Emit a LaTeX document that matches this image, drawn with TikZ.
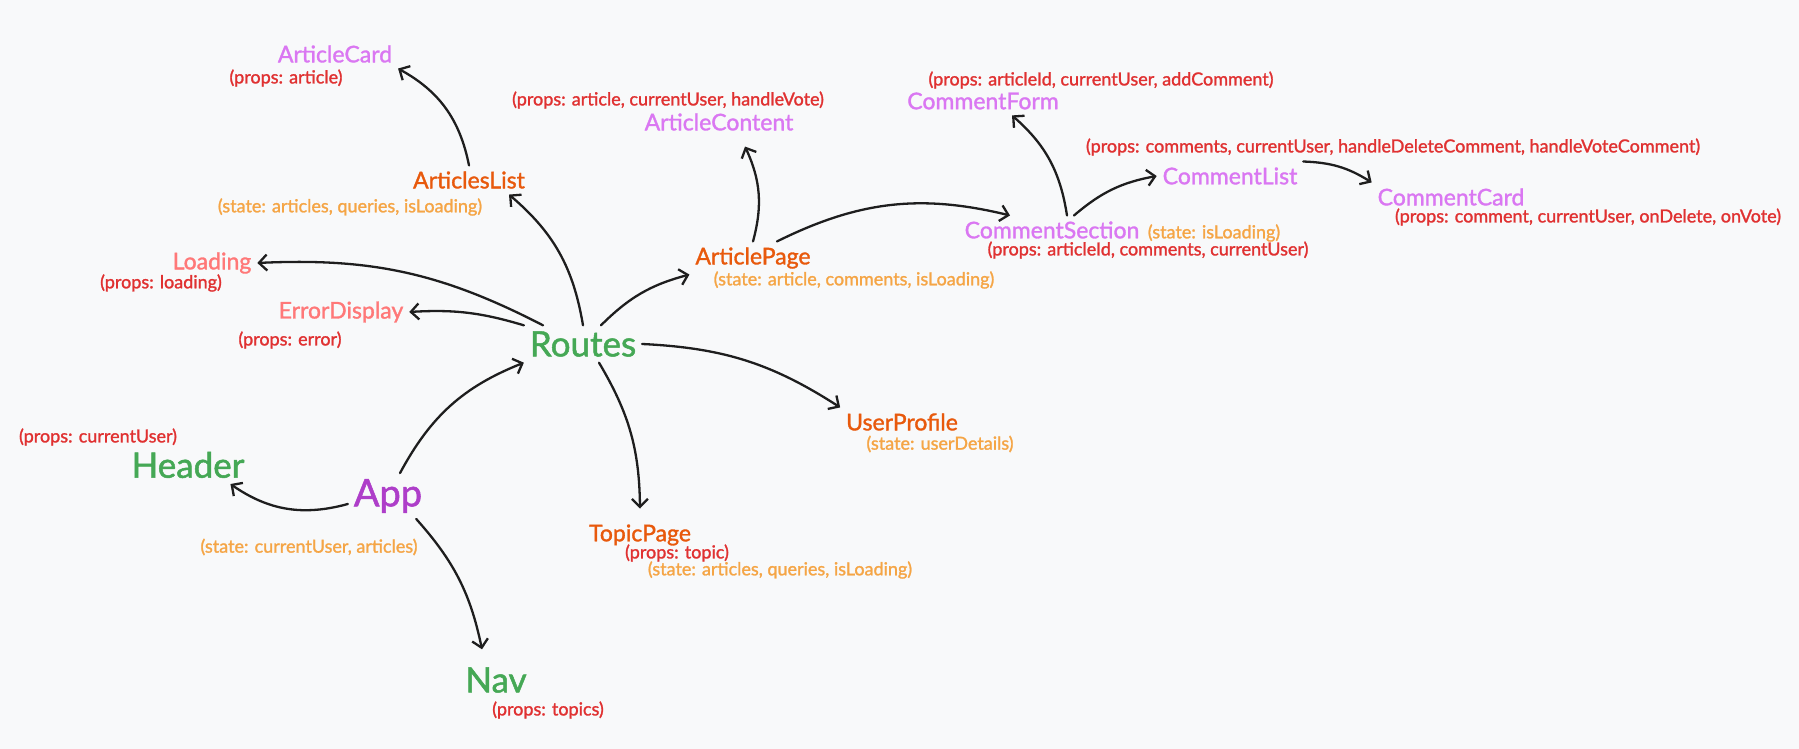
\documentclass[tikz,border=0pt]{standalone}
\usepackage{fontspec}
\setmainfont{Lato}[BoldFont=Lato, BoldFeatures={FakeBold=1.4}]
\usetikzlibrary{positioning}
\usetikzlibrary{arrows.meta}
\definecolor{bg}{HTML}{F8F9FA}
\definecolor{ink}{HTML}{1E1E1E}
\definecolor{leafgreen}{HTML}{45A855}
\definecolor{grape}{HTML}{AE3EC9}
\definecolor{lilac}{HTML}{DA77F2}
\definecolor{pageorange}{HTML}{E8590C}
\definecolor{stateorange}{HTML}{F5A545}
\definecolor{propred}{HTML}{E03131}
\definecolor{salmon}{HTML}{FF7878}
\tikzset{
    every node/.style={
        inner sep=1pt,
        outer sep=5pt},
    root/.style={font=\fontsize{38}{42}\selectfont\bfseries, text=grape},
    shell/.style={font=\fontsize{35}{40}\selectfont\bfseries, text=leafgreen},
    page/.style={font=\fontsize{23}{27}\selectfont\bfseries, text=pageorange},
    leaf/.style={font=\fontsize{23}{27}\selectfont\bfseries, text=lilac},
    misc/.style={font=\fontsize{23}{27}\selectfont\bfseries, text=salmon},
    props/.style={font=\fontsize{18}{21}\selectfont\bfseries, text=propred},
    state/.style={font=\fontsize{18}{21}\selectfont\bfseries, text=stateorange},
    every edge/.style={
        draw=ink,
        -{Straight Barb[length=8pt,width=16pt]},
        line width=2.3pt,
        line cap=round}}

\begin{document}
\begin{tikzpicture}[x=1pt, y=1pt]
        \useasboundingbox (0,0) rectangle (1799,749);
        \fill[bg] (0,0) rectangle (1799,749);

        \node[root] (app) at (388,253) {App};
        \node[state] (appstate) at (309,202) {(state: currentUser, articles)};
        \node[shell] (header) at (188,284) {Header};
        \node[props] (headerprops) at (98,312) {(props: currentUser)};
        \node[shell] (nav) at (496,69) {Nav};
        \node[props] (navprops) at (548,39) {(props: topics)};
        \node[shell] (routes) at (583,405) {Routes};

        \node[page] (list) at (469,569) {ArticlesList};
        \node[state] (liststate) at (350,542) {(state: articles, queries, isLoading)};
        \node[leaf] (card) at (335,695) {ArticleCard};
        \node[props] (cardprops) at (286,671) {(props: article)};
        \node[misc] (loading) at (212,486) {Loading};
        \node[props] (loadingprops) at (161,466) {(props: loading)};
        \node[misc] (error) at (341,437) {ErrorDisplay};
        \node[props] (errorprops) at (290,409) {(props: error)};

        \node[page] (article) at (753,491) {ArticlePage};
        \node[state] (articlestate) at (854,469) {(state: article, comments, isLoading)};
        \node[leaf] (content) at (719,627) {ArticleContent};
        \node[props] (contentprops) at (668,649) {(props: article, currentUser, handleVote)};
        \node[leaf] (section) at (1052,519) {CommentSection};
        \node[state] (sectionstate) at (1214,516) {(state: isLoading)};
        \node[props] (sectionprops) at (1148,499) {(props: articleId, comments, currentUser)};
        \node[leaf] (form) at (983,648) {CommentForm};
        \node[props] (formprops) at (1101,669) {(props: articleId, currentUser, addComment)};
        \node[leaf] (clist) at (1230,573) {CommentList};
        \node[props] (clistprops) at (1393,602) {(props: comments, currentUser, handleDeleteComment, handleVoteComment)};
        \node[leaf] (ccard) at (1451,552) {CommentCard};
        \node[props] (ccardprops) at (1588,532) {(props: comment, currentUser, onDelete, onVote)};

        \node[page] (topic) at (640,214) {TopicPage};
        \node[props] (topicprops) at (677,196) {(props: topic)};
        \node[state] (topicstate) at (780,179) {(state: articles, queries, isLoading)};
        \node[page] (profile) at (902,327) {UserProfile};
        \node[state] (profilestate) at (940,305) {(state: userDetails)};

        \draw ([xshift=12pt]app.north) edge[bend left=20] (routes.south west);
        \draw ([yshift=-8pt]app.west) edge[bend left=25] ([xshift=-20pt]header.south east);
        \draw ([xshift=-12pt]app.south east) edge[bend left=15] ([xshift=-14pt,yshift=12pt]nav.north);

        \draw (routes.north) edge[bend right=20] ([xshift=40pt]list.south);
        \draw (list.north) edge[bend right=25] (card.south east);
        \draw ([xshift=-40pt]routes.north) edge[bend right=15] (loading.east);
        \draw (routes.north west) edge[bend right=10] (error.east);
        \draw ([xshift=18pt]routes.north) edge[bend left=15] (article.south west);
        \draw (routes.east) edge[bend left=15] (profile.north west);
        \draw ([xshift=16pt]routes.south) edge[bend left=15] ([yshift=10pt]topic.north);

        \draw (article.north) edge[bend right=20] ([xshift=26pt,yshift=-10pt]content.south);
        \draw ([xshift=24pt]article.north) edge[bend left=20] ([xshift=-42pt]section.north);
        \draw ([xshift=15pt]section.north) edge[bend right=20] ([xshift=29pt]form.south);
        \draw ([xshift=22pt]section.north) edge[bend left=15] (clist.west);
        \draw (clist.north east) edge[bend left=15] (ccard.north west);
    \end{tikzpicture}
\end{document}
